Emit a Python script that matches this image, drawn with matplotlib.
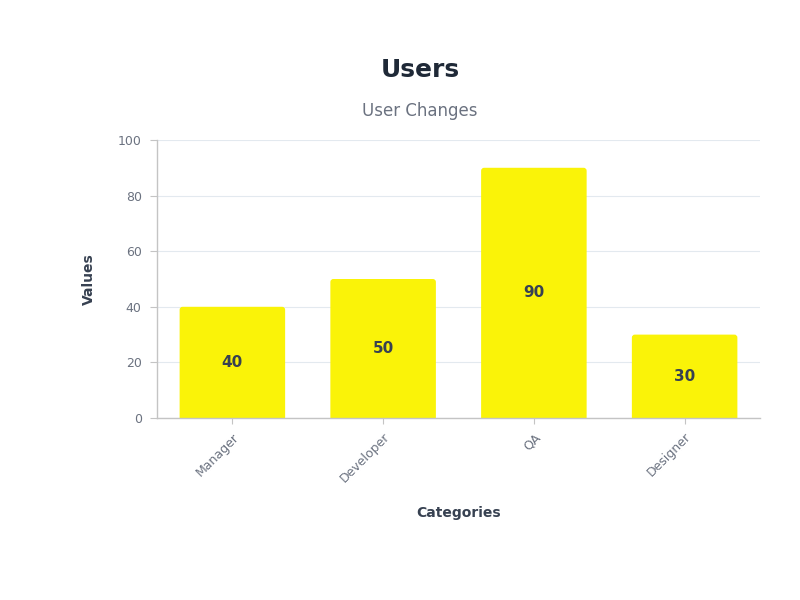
import numpy as np
import matplotlib.pyplot as plt
from matplotlib.patches import FancyBboxPatch

# data
categories = ["Manager", "Developer", "QA", "Designer"]
values = [40, 50, 90, 30]
y_ticks = [0, 20, 40, 60, 80, 100]

BAR_COLOR = '#FAF308'
TEXT_DARK = '#1f2937'
TEXT_MID = '#374151'
TEXT_GREY = '#6b7280'
GRID = '#e3e9ef'
AXIS = '#c4c4c4'

fig = plt.figure(figsize=(8, 6), dpi=100)
ax = fig.add_axes([0.19625, 0.3033, 0.75375, 0.4634])

x = np.arange(len(categories))
bars = ax.bar(x, values, width=0.7, color=BAR_COLOR, zorder=2)

ax.set_xlim(-0.5, len(categories) - 0.5)
ax.set_ylim(0, 100)

# swap plain rectangles for ones with slightly rounded top corners
aspect = (100 / 278) / (4 / 603)
for rect in bars:
    rect.set_visible(False)
    fb = FancyBboxPatch((rect.get_x(), rect.get_y() - 3), rect.get_width(), rect.get_height() + 3,
                        boxstyle="round,pad=0,rounding_size=0.02",
                        mutation_aspect=aspect, facecolor=BAR_COLOR,
                        edgecolor='none', zorder=2)
    ax.add_patch(fb)
    ax.text(rect.get_x() + rect.get_width() / 2, rect.get_height() / 2,
            f"{int(rect.get_height())}", ha='center', va='center',
            fontsize=11, fontweight='bold', color=TEXT_MID, zorder=3)

ax.set_xticks(x)
ax.set_xticklabels(categories, rotation=45, ha='right', rotation_mode='anchor',
                   fontsize=9, color=TEXT_GREY)
ax.set_yticks(y_ticks)
ax.set_yticklabels([str(v) for v in y_ticks], fontsize=9, color=TEXT_GREY)
ax.tick_params(axis='x', length=4, color=AXIS, pad=5)
ax.tick_params(axis='y', length=5, color=AXIS, pad=6)

for s in ['top', 'right']:
    ax.spines[s].set_visible(False)
for s in ['left', 'bottom']:
    ax.spines[s].set_color(AXIS)
    ax.spines[s].set_linewidth(1)

ax.set_axisbelow(True)
ax.yaxis.grid(True, color=GRID, linewidth=0.8)

ax.set_ylabel('Values', fontsize=10, fontweight='bold', color=TEXT_MID, labelpad=16)
ax.set_xlabel('Categories', fontsize=10, fontweight='bold', color=TEXT_MID, labelpad=15)

fig.text(0.525, 1 - 70 / 600, 'Users', ha='center', va='center',
         fontsize=18, fontweight='bold', color=TEXT_DARK)
fig.text(0.525, 1 - 111 / 600, 'User Changes', ha='center', va='center',
         fontsize=12, color=TEXT_GREY)

plt.savefig('out.png', dpi=100)
